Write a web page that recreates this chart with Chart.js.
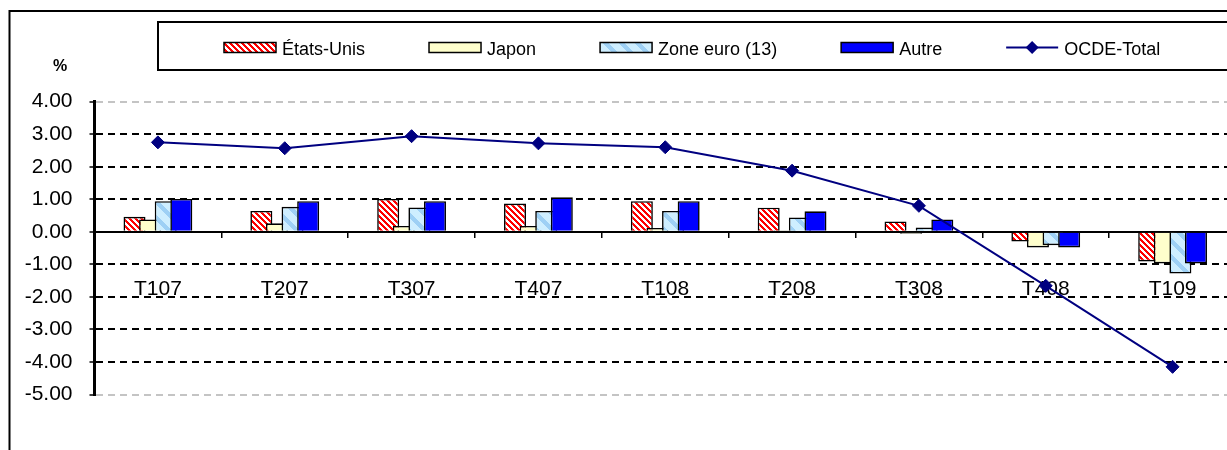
<!DOCTYPE html>
<html><head><meta charset="utf-8">
<script src="https://cdn.jsdelivr.net/npm/chart.js@4.4.1/dist/chart.umd.min.js"></script>
<style>html,body{margin:0;padding:0;background:#fff;overflow:hidden}#wrap{width:1227px;height:450px;overflow:hidden;position:relative}</style>
</head><body><div id="wrap"><canvas id="c" width="1260" height="450" style="width:1260px;height:450px;display:block"></canvas></div>
<script>
const categories = ['T107','T207','T307','T407','T108','T208','T308','T408','T109'];
const etatsUnis = [0.46, 0.64, 1.01, 0.87, 0.94, 0.74, 0.32, -0.30, -0.91];
const japon     = [0.38, 0.26, 0.18, 0.18, 0.12, 0.05, -0.06, -0.48, -0.97];
const zoneEuro  = [0.94, 0.77, 0.75, 0.64, 0.64, 0.44, 0.13, -0.41, -1.28];
const autre     = [1.01, 0.94, 0.94, 1.06, 0.94, 0.63, 0.38, -0.48, -0.97];
const ocdeTotal = [2.75, 2.57, 2.94, 2.72, 2.60, 1.88, 0.80, -1.66, -4.15];
const yMin = -5, yMax = 4, yStep = 1;
const seriesNames = ['États-Unis', 'Japon', 'Zone euro (13)', 'Autre', 'OCDE-Total'];
const yUnit = '%';

const FONT = '"Liberation Sans", Arial, sans-serif';
Chart.defaults.font.family = FONT;
Chart.defaults.color = '#000';

const canvas = document.getElementById('c');
const mainCtx = canvas.getContext('2d');

function stripePattern(n, stripe, bg, fg) {
  const c = document.createElement('canvas');
  c.width = n; c.height = n;
  const x = c.getContext('2d');
  const img = x.createImageData(n, n);
  for (let j = 0; j < n; j++) {
    for (let i = 0; i < n; i++) {
      const k = (((i - j) % n) + n) % n;
      const col = k < stripe ? fg : bg;
      const p = (j * n + i) * 4;
      img.data[p] = col[0]; img.data[p + 1] = col[1]; img.data[p + 2] = col[2]; img.data[p + 3] = 255;
    }
  }
  x.putImageData(img, 0, 0);
  return mainCtx.createPattern(c, 'repeat');
}

const redHatch = stripePattern(6, 3, [255, 255, 255], [255, 0, 0]);
const blueHatch = stripePattern(16, 6, [206, 238, 255], [158, 208, 245]);

const barCommon = {
  type: 'bar',
  borderColor: '#000',
  borderWidth: 1.6,
  categoryPercentage: 0.492,
  barPercentage: 1.41
};

const frameLegendPlugin = {
  id: 'frameLegend',
  beforeDraw(chart) {
    const ctx = chart.ctx;
    ctx.save();
    ctx.fillStyle = '#fff';
    ctx.fillRect(0, 0, chart.width, chart.height);
    ctx.strokeStyle = '#000';
    ctx.lineWidth = 2;
    ctx.strokeRect(9.5, 11, chart.width + 40, chart.height + 40);
    ctx.strokeRect(158, 22, chart.width + 40, 48);
    ctx.fillStyle = '#000';
    ctx.font = 'bold 16px ' + FONT;
    ctx.textAlign = 'center';
    ctx.textBaseline = 'middle';
    ctx.fillText(yUnit, 60, 67);

    ctx.font = '18px ' + FONT;
    ctx.textAlign = 'left';
    ctx.textBaseline = 'alphabetic';
    let x = 224;
    const yMid = 47.5;
    chart.data.datasets.forEach(ds => {
      if (ds.type === 'line') {
        ctx.strokeStyle = ds.borderColor;
        ctx.lineWidth = 2;
        ctx.beginPath(); ctx.moveTo(x, yMid); ctx.lineTo(x + 52, yMid); ctx.stroke();
        const r = 6.5, cx = x + 26;
        ctx.fillStyle = ds.pointBackgroundColor;
        ctx.beginPath();
        ctx.moveTo(cx, yMid - r); ctx.lineTo(cx + r, yMid); ctx.lineTo(cx, yMid + r); ctx.lineTo(cx - r, yMid);
        ctx.closePath(); ctx.fill();
      } else {
        ctx.fillStyle = ds.backgroundColor;
        ctx.fillRect(x, 42.5, 52, 10);
        ctx.strokeStyle = '#000';
        ctx.lineWidth = 1.5;
        ctx.strokeRect(x, 42.5, 52, 10);
      }
      ctx.fillStyle = '#000';
      ctx.fillText(ds.label, x + 58, 55);
      x += 58 + ctx.measureText(ds.label).width + 64;
    });
    ctx.restore();
  }
};

const drawOrderPlugin = {
  id: 'drawOrder',
  beforeDatasetsDraw(chart) {
    const metas = chart.getSortedVisibleDatasetMetas();
    for (const m of metas) {
      chart.ctx.save();
      m.controller.draw();
      chart.ctx.restore();
    }
    return false;
  }
};

new Chart(canvas, {
  data: {
    labels: categories,
    datasets: [
      Object.assign({}, barCommon, { label: seriesNames[0], data: etatsUnis, backgroundColor: redHatch }),
      Object.assign({}, barCommon, { label: seriesNames[1], data: japon, backgroundColor: '#ffffcc' }),
      Object.assign({}, barCommon, { label: seriesNames[2], data: zoneEuro, backgroundColor: blueHatch }),
      Object.assign({}, barCommon, { label: seriesNames[3], data: autre, backgroundColor: '#0000ff' }),
      {
        type: 'line', label: seriesNames[4], data: ocdeTotal,
        borderColor: '#000080', borderWidth: 2, tension: 0,
        pointStyle: 'rectRot', pointRadius: 6.5, pointHoverRadius: 6.5,
        pointBackgroundColor: '#000080', pointBorderColor: '#000080', pointBorderWidth: 1
      }
    ]
  },
  options: {
    responsive: false,
    animation: false,
    devicePixelRatio: 1,
    events: [],
    layout: { padding: { left: 0, top: 101.7, right: 24, bottom: 55.5 } },
    plugins: { legend: { display: false }, tooltip: { enabled: false }, title: { display: false } },
    scales: {
      x: {
        type: 'category',
        position: { y: 0 },
        offset: true,
        grid: { display: true, offset: true, drawOnChartArea: false, drawTicks: true, tickLength: 5, color: '#000', lineWidth: 1.5 },
        border: { display: true, color: '#000', width: 2 },
        ticks: { font: { size: 21 }, color: '#000', padding: 39.5, maxRotation: 0, autoSkip: false }
      },
      y: {
        type: 'linear',
        position: 'left',
        min: yMin, max: yMax,
        afterFit(scale) { scale.width = 94.5; },
        ticks: { stepSize: yStep, font: { size: 21 }, color: '#000', padding: 17, callback: v => Number(v).toFixed(2) },
        grid: {
          drawTicks: true, tickLength: 5, lineWidth: 2,
          color: c => (c.tick.value === yMax || c.tick.value === yMin) ? '#c4c4c4' : (c.tick.value === 0 ? 'rgba(0,0,0,0)' : '#000'),
          tickColor: '#000', tickWidth: 1.5
        },
        border: { display: true, color: '#000', width: 3, dash: [7, 5] }
      }
    }
  },
  plugins: [frameLegendPlugin, drawOrderPlugin]
});
</script>
</body></html>
